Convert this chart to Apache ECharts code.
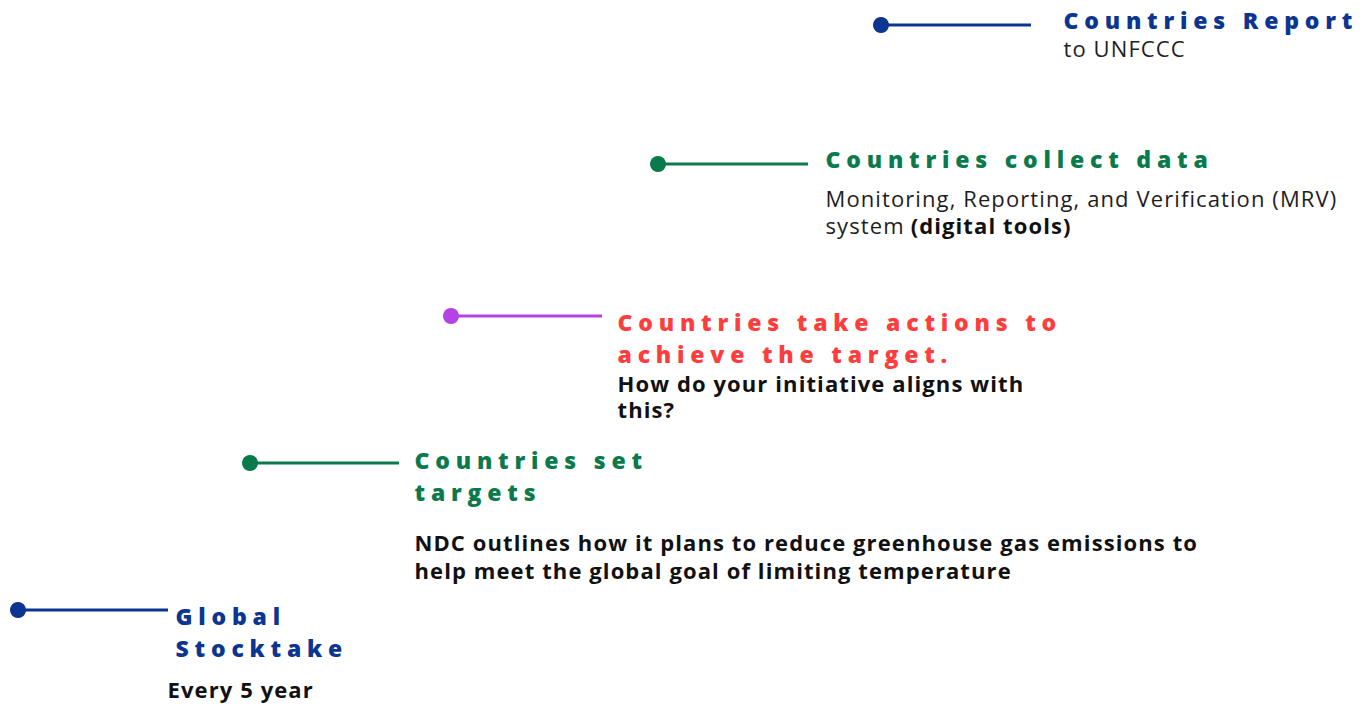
<!DOCTYPE html>
<html>
<head>
<meta charset="utf-8">
<script src="https://cdn.jsdelivr.net/npm/echarts@6/dist/echarts.min.js"></script>
<style>
  html, body { margin: 0; padding: 0; background: #fff; }
  #chart { width: 1362px; height: 704px; }
  /* slight tracking on all text, wide tracking on the step titles */
  #chart svg text { letter-spacing: 1.1px; }
  #chart text[fill="#0b3590"], #chart text[fill="#0a7a4c"], #chart text[fill="#ff3d3d"] { letter-spacing: 5.8px; }
</style>
</head>
<body>
<div id="chart"></div>
<script>
// steps, bottom to top
const titles = [
  'Global\nStocktake',
  'Countries set\ntargets',
  'Countries take actions to\nachieve the target.',
  'Countries collect data',
  'Countries Report'
]
// **...** marks bold parts
const descriptions = [
  '**Every 5 year**',
  '**NDC outlines how it plans to reduce greenhouse gas emissions to**\n**help meet the global goal of limiting temperature**',
  '**How do your initiative aligns with**\n**this?**',
  'Monitoring, Reporting, and Verification (MRV)\nsystem **(digital tools)**',
  'to UNFCCC'
]
const dotX = [18, 250, 451, 658, 881]
const lineEndX = [168, 399, 602, 808, 1031]
const levelY = [610, 463, 316, 164, 25]

const NAVY = '#0b3590'
const GREEN = '#0a7a4c'
const lineColors = [NAVY, GREEN, '#b343e6', GREEN, NAVY]
const titleColors = [NAVY, GREEN, '#ff3d3d', GREEN, NAVY]

// label layout per step
const labelDx = [0, 16, 16, 18, 33]
const labelDy = [6, -3, 6, -5, -5]
const titleIndent = [8, 0, 0, 0, 0]
const gapH = [12, 20, 0, 10, 0]
const descLh = [27, 28, 26, 27, 25]
const TRACK = 1.1 // css letter-spacing of descriptions, not measured by zrender

const FONT = '"Open Sans", sans-serif'

function buildRich(i) {
  const d = { fontFamily: FONT, fontWeight: 400, fontSize: 22, lineHeight: descLh[i], color: '#1e1e1e' }
  const b = { fontFamily: FONT, fontWeight: 700, fontSize: 22, lineHeight: descLh[i], color: '#111111' }
  const rich = {
    t: { fontFamily: FONT, fontWeight: 800, fontSize: 23, lineHeight: 32, color: titleColors[i], padding: [0, 0, 0, titleIndent[i]] },
    gap: { height: gapH[i], lineHeight: gapH[i] }
  }
  const lines = titles[i].split('\n').map((l) => '{t|' + l + '}')
  if (gapH[i] > 0) lines.push('{gap|}')
  let n = 0
  descriptions[i].split('\n').forEach((l) => {
    const parts = l.split('**')
    let s = ''
    let prevLen = 0
    let pendingSpace = false
    parts.forEach((p, k) => {
      if (!p) return
      const lead = pendingSpace || /^ /.test(p)
      pendingSpace = / $/.test(p)
      const txt = p.trim()
      const key = 's' + n++
      // word space plus the tracking that the previous token adds
      const pad = lead ? 6 + prevLen * TRACK : 0
      rich[key] = Object.assign({}, k % 2 === 1 ? b : d, { padding: [0, 0, 0, pad] })
      s += '{' + key + '|' + txt + '}'
      prevLen = txt.length
    })
    lines.push(s)
  })
  return { text: lines.join('\n'), rich }
}

const chart = echarts.init(document.getElementById('chart'), null, { renderer: 'svg' })

const series = []
titles.forEach((_, i) => {
  series.push({
    type: 'line',
    silent: true,
    data: [
      { value: [dotX[i], levelY[i]], symbolSize: 16 },
      { value: [lineEndX[i], levelY[i]], symbolSize: 0 }
    ],
    symbol: 'circle',
    showSymbol: true,
    lineStyle: { color: lineColors[i], width: 3 },
    itemStyle: { color: lineColors[i] },
    z: 2
  })
})

// text blocks sit next to the line ends
series.push({
  type: 'scatter',
  silent: true,
  symbolSize: 1,
  itemStyle: { color: 'transparent', opacity: 1 },
  data: titles.map((_, i) => {
    const r = buildRich(i)
    return {
      value: [lineEndX[i], levelY[i]],
      label: {
        show: true,
        position: [labelDx[i], labelDy[i] - 16],
        align: 'left',
        verticalAlign: 'top',
        formatter: r.text,
        rich: r.rich
      }
    }
  }),
  z: 3
})

const option = {
  animation: false,
  backgroundColor: '#fff',
  grid: { left: 0, right: 0, top: 0, bottom: 0 },
  xAxis: { type: 'value', min: 0, max: 1362, show: false },
  yAxis: { type: 'value', min: 0, max: 704, inverse: true, show: false },
  series
}

chart.setOption(option)
</script>
</body>
</html>
